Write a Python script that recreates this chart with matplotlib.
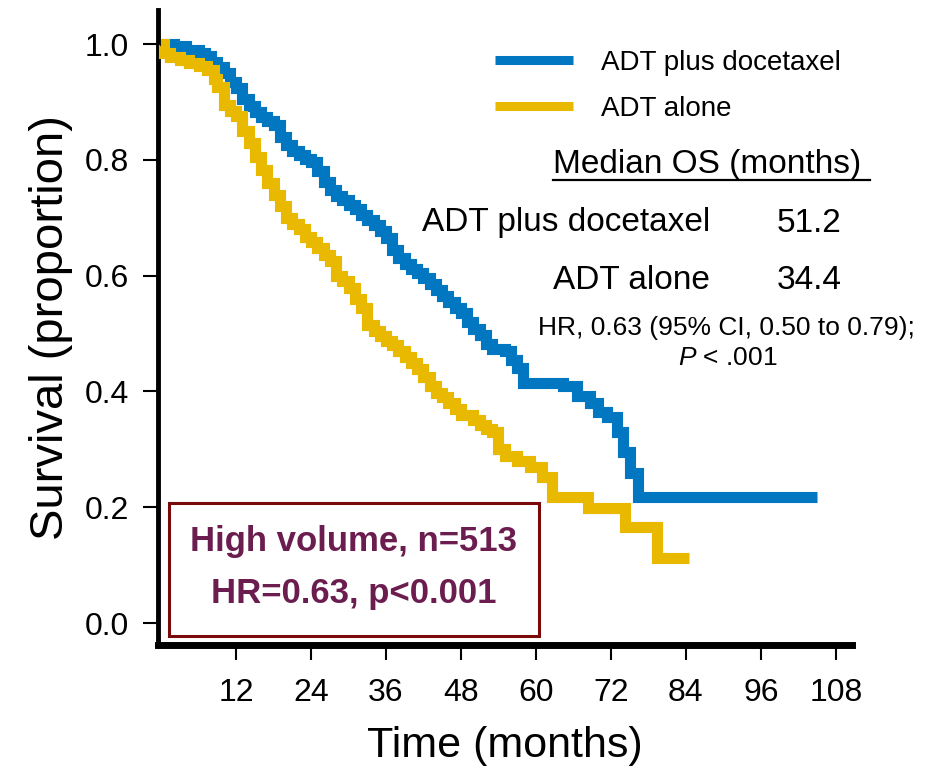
import matplotlib
matplotlib.use('Agg')
import matplotlib.pyplot as plt
from matplotlib.lines import Line2D
from matplotlib.patches import Rectangle

# survival curves (months, proportion)
t_doc = [0, 2, 4, 6, 7, 8, 9, 10, 11, 12, 13, 14, 15, 16, 17, 18, 19, 20, 21, 22,
         23, 24, 25, 26, 27, 28, 29, 30, 31, 32, 33, 34, 35, 36, 37, 38, 39, 40, 41, 42,
         43, 44, 45, 46, 47, 48, 49, 50, 51, 52, 53, 55, 56, 57, 58,
         64.3, 66.6, 68.6, 70, 71.4, 73, 74, 75, 76.3, 105]
s_doc = [1.0, 0.997, 0.99, 0.985, 0.98, 0.97, 0.96, 0.95, 0.935, 0.924,
         0.905, 0.893, 0.883, 0.875, 0.868, 0.86, 0.84, 0.825, 0.815, 0.808,
         0.802, 0.796, 0.78, 0.762, 0.748, 0.738, 0.73, 0.722, 0.715, 0.705,
         0.696, 0.688, 0.678, 0.665, 0.645, 0.63, 0.62, 0.612, 0.605, 0.596,
         0.586, 0.575, 0.565, 0.555, 0.545, 0.535, 0.52, 0.508, 0.498, 0.482,
         0.474, 0.47, 0.455, 0.44, 0.414,
         0.41, 0.392, 0.38, 0.365, 0.356, 0.33, 0.296, 0.26, 0.218, 0.218]

t_adt = [0, 0.5, 1.5, 3, 4.5, 6, 7.4, 8.5, 9, 10, 11, 12, 13, 14, 15, 16, 17, 18, 19, 20,
         21, 22, 23, 24, 25, 26, 27, 28, 29, 30, 31, 32, 33, 34, 35, 36, 37, 38, 39, 40,
         41, 42, 43, 44, 45, 46, 47, 48, 50, 51, 52, 53, 54, 55,
         57, 59, 61, 62.5, 68.3, 74.2, 79.4, 84.5]
s_adt = [1.0, 0.985, 0.978, 0.972, 0.967, 0.962, 0.955, 0.94, 0.926, 0.895,
         0.885, 0.876, 0.85, 0.83, 0.805, 0.782, 0.76, 0.74, 0.72, 0.70,
         0.69, 0.68, 0.667, 0.658, 0.648, 0.635, 0.625, 0.60, 0.59, 0.578,
         0.56, 0.545, 0.515, 0.505, 0.495, 0.488, 0.48, 0.47, 0.46, 0.45,
         0.438, 0.425, 0.41, 0.398, 0.39, 0.38, 0.37, 0.36,
         0.35, 0.342, 0.335, 0.33, 0.30, 0.288,
         0.28, 0.27, 0.252, 0.218, 0.199, 0.166, 0.112, 0.112]

x_ticks = [12, 24, 36, 48, 60, 72, 84, 96, 108]
y_ticks = [0.0, 0.2, 0.4, 0.6, 0.8, 1.0]
labels = ['ADT plus docetaxel', 'ADT alone']
medians = ['51.2', '34.4']

blue = '#0077c0'
yellow = '#e9b900'
purple = '#6b1d4f'
darkred = '#7a0a0a'

plt.rcParams['font.family'] = ['Liberation Sans', 'DejaVu Sans']
plt.rcParams['mathtext.fontset'] = 'custom'
plt.rcParams['mathtext.it'] = 'Liberation Sans:italic'
plt.rcParams['mathtext.rm'] = 'Liberation Sans'

W, H = 928, 781
fig = plt.figure(figsize=(W / 100, H / 100), dpi=100)
ax = fig.add_axes([158 / W, 1 - 645 / H, (852 - 158) / W, (645 - 10) / H])

ax.plot(t_doc, s_doc, drawstyle='steps-post', color=blue, lw=8,
        solid_joinstyle='miter', solid_capstyle='butt', zorder=3)
ax.plot(t_adt, s_adt, drawstyle='steps-post', color=yellow, lw=8,
        solid_joinstyle='miter', solid_capstyle='butt', zorder=4)

ax.set_xlim(-0.5, 110.6)
ax.set_ylim(-0.038, 1.059)
ax.set_xticks(x_ticks)
ax.set_yticks(y_ticks)
ax.set_yticklabels(['%.1f' % v for v in y_ticks])
ax.tick_params(axis='both', direction='out', length=11, width=1.5, color='black',
               labelsize=23)
ax.tick_params(axis='x', pad=13)
ax.tick_params(axis='y', pad=10)

for side in ['top', 'right']:
    ax.spines[side].set_visible(False)
ax.spines['left'].set_linewidth(3.5)
ax.spines['bottom'].set_linewidth(5)

ax.set_xlabel('Time (months)', fontsize=31, labelpad=13)
ax.set_ylabel('Survival (proportion)', fontsize=34, labelpad=8)

# legend
handles = [Line2D([], [], color=blue, lw=6.5, solid_capstyle='butt'),
           Line2D([], [], color=yellow, lw=6.5, solid_capstyle='butt')]
fig.legend(handles, labels, loc='upper left', bbox_to_anchor=(495 / W, 1 - 50 / H),
           frameon=False, fontsize=20, handlelength=2.8, handletextpad=1.0,
           labelspacing=0.72, borderpad=0, borderaxespad=0)

# median OS table
def fx(px):
    return px / W

def fy(py):
    return 1 - py / H

fig.text(fx(553), fy(164), 'Median OS (months)', fontsize=24, ha='left', va='center')
fig.add_artist(Line2D([fx(553), fx(870)], [fy(180), fy(180)], color='black', lw=1.6))
fig.text(fx(710), fy(223), labels[0], fontsize=24, ha='right', va='center')
fig.text(fx(777), fy(223), medians[0], fontsize=24, ha='left', va='center')
fig.text(fx(710), fy(281), labels[1], fontsize=24, ha='right', va='center')
fig.text(fx(777), fy(281), medians[1], fontsize=24, ha='left', va='center')
fig.text(fx(726), fy(328), 'HR, 0.63 (95% CI, 0.50 to 0.79);', fontsize=19,
         ha='center', va='center')
fig.text(fx(728), fy(358), r'$P$ < .001', fontsize=19, ha='center', va='center')

# annotation box
box = Rectangle((fx(169), fy(636)), fx(539) - fx(169), fy(503) - fy(636),
                transform=fig.transFigure, facecolor='white', edgecolor=darkred,
                lw=2.2, zorder=10)
fig.add_artist(box)
fig.text(fx(354), fy(541), 'High volume, n=513', fontweight='bold',
         fontsize=25, color=purple, ha='center', va='center', zorder=11)
fig.text(fx(354), fy(593), 'HR=0.63, p<0.001', fontweight='bold',
         fontsize=25, color=purple, ha='center', va='center', zorder=11)

fig.savefig('out.png', dpi=100)
